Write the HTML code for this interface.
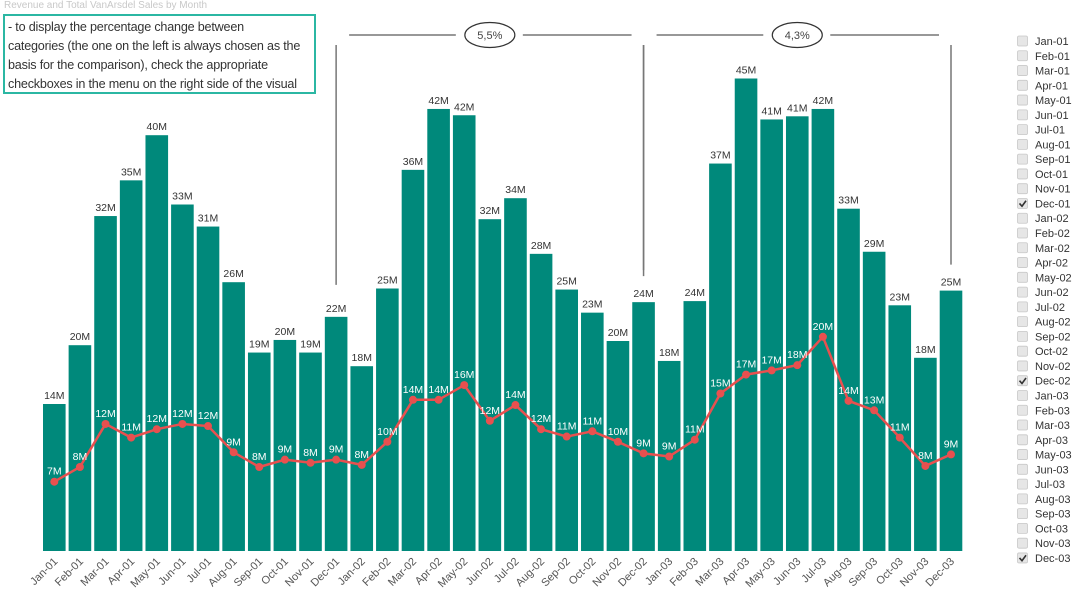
<!DOCTYPE html>
<html><head><meta charset="utf-8">
<style>
body{margin:0;background:#fff;font-family:"Liberation Sans",sans-serif;}
#wrap{position:relative;width:1080px;height:608px;overflow:hidden;}
#title{position:absolute;left:4px;top:0px;font-size:10px;color:#c8c8c8;}
#note{position:absolute;left:3px;top:14px;width:313px;height:80px;border:2px solid #2bb7a3;box-sizing:border-box;padding:2px 3px;font-size:12.6px;letter-spacing:-0.2px;line-height:19px;color:#333;white-space:nowrap;overflow:hidden;}
</style></head><body>
<div id="wrap">
<div id="title">Revenue and Total VanArsdel Sales by Month</div>
<div id="note">- to display the percentage change between<br>categories (the one on the left is always chosen as the<br>basis for the comparison), check the appropriate<br>checkboxes in the menu on the right side of the visual</div>
<svg id="chart" width="1080" height="608" style="position:absolute;left:0;top:0"></svg>
</div>
<script>
const months = ["Jan-01","Feb-01","Mar-01","Apr-01","May-01","Jun-01","Jul-01","Aug-01","Sep-01","Oct-01","Nov-01","Dec-01","Jan-02","Feb-02","Mar-02","Apr-02","May-02","Jun-02","Jul-02","Aug-02","Sep-02","Oct-02","Nov-02","Dec-02","Jan-03","Feb-03","Mar-03","Apr-03","May-03","Jun-03","Jul-03","Aug-03","Sep-03","Oct-03","Nov-03","Dec-03"];
const revenue = [14.0,19.6,31.9,35.3,39.6,33.0,30.9,25.6,18.9,20.1,18.9,22.3,17.6,25.0,36.3,42.1,41.5,31.6,33.6,28.3,24.9,22.7,20.0,23.7,18.1,23.8,36.9,45.0,41.1,41.4,42.1,32.6,28.5,23.4,18.4,24.8];
const sales = [6.6,8.0,12.1,10.8,11.6,12.1,11.9,9.4,8.0,8.7,8.4,8.7,8.2,10.4,14.4,14.4,15.8,12.4,13.9,11.6,10.9,11.4,10.4,9.3,9.0,10.6,15.0,16.8,17.2,17.7,20.4,14.3,13.4,10.8,8.1,9.2];
const checked = ["Dec-01","Dec-02","Dec-03"];
const comparisons = [{from:"Dec-01",to:"Dec-02",label:"5,5%"},{from:"Dec-02",to:"Dec-03",label:"4,3%"}];

const NS="http://www.w3.org/2000/svg";
const svg=document.getElementById('chart');
const x0=43, pitch=25.62, bw=22.6, base=551, ppm=10.5;
const xs=i=>x0+i*pitch;
const xc=i=>xs(i)+bw/2;
const y=v=>base-v*ppm;
function mk(t,a,txt){const e=document.createElementNS(NS,t);for(const k in a)e.setAttribute(k,a[k]);if(txt!=null)e.textContent=txt;svg.appendChild(e);return e;}

months.forEach((m,i)=>{
  const r=mk('rect',{x:xs(i),y:y(revenue[i]),width:bw,height:revenue[i]*ppm,fill:'#00897b'});
  
  
  const t=mk('text',{x:xc(i),y:y(revenue[i])-5,'text-anchor':'middle','font-size':'10.5',fill:'#333'},Math.round(revenue[i])+'M');
  
  
  const xl=mk('text',{x:xc(i)+4,y:562,'text-anchor':'end','font-size':'11',fill:'#555',transform:`rotate(-45 ${xc(i)+4} 562)`},m);
  
  
});
const pl=mk('polyline',{points:sales.map((v,i)=>xc(i)+','+y(v)).join(' '),fill:'none',stroke:'#e8504f','stroke-width':'2.5'});


sales.forEach((v,i)=>{
  const c=mk('circle',{cx:xc(i),cy:y(v),r:4,fill:'#e8504f'});
  
  
  const t=mk('text',{x:xc(i),y:y(v)-7,'text-anchor':'middle','font-size':'10.5',fill:'#fff'},Math.round(v)+'M');
  
  
});
comparisons.forEach(cp=>{
  const a=months.indexOf(cp.from), b=months.indexOf(cp.to);
  const xa=xc(a), xb=xc(b), mid=(xa+xb)/2, hy=35;
  const g=document.createElementNS(NS,'g');svg.appendChild(g);
  
  
  const ln=(x1,y1,x2,y2)=>{const e=document.createElementNS(NS,'line');e.setAttribute('x1',x1);e.setAttribute('y1',y1);e.setAttribute('x2',x2);e.setAttribute('y2',y2);e.setAttribute('stroke','#777');e.setAttribute('stroke-width','1.5');g.appendChild(e);};
  ln(xa+13,hy,mid-34,hy); ln(mid+33,hy,xb-12,hy);
  ln(xa,45,xa,y(revenue[a])-32); ln(xb,45,xb,y(revenue[b])-26);
  const el=document.createElementNS(NS,'ellipse');el.setAttribute('cx',mid);el.setAttribute('cy',hy);el.setAttribute('rx',25);el.setAttribute('ry',12.5);el.setAttribute('fill','#fff');el.setAttribute('stroke','#333');el.setAttribute('stroke-width','1.2');g.appendChild(el);
  const t=document.createElementNS(NS,'text');t.setAttribute('x',mid);t.setAttribute('y',hy+4);t.setAttribute('text-anchor','middle');t.setAttribute('font-size','11');t.setAttribute('fill','#444');t.textContent=cp.label;g.appendChild(t);
});
months.forEach((m,i)=>{
  const yy=41+i*14.77;
  const box=mk('rect',{x:1017.5,y:yy-5,width:10,height:10,rx:1.5,fill:'#e6e6e6',stroke:'#c8c8c8','stroke-width':'0.8'});
  
  
  if(checked.includes(m)){
    const ck=mk('path',{d:`M${1019.5} ${yy} l2.5 2.8 l4 -5.5`,fill:'none',stroke:'#333','stroke-width':'1.6'});
    
    
  }
  const t=mk('text',{x:1035,y:yy+4,'font-size':'11',fill:'#333'},m);
  
  
});
</script>
</body></html>
